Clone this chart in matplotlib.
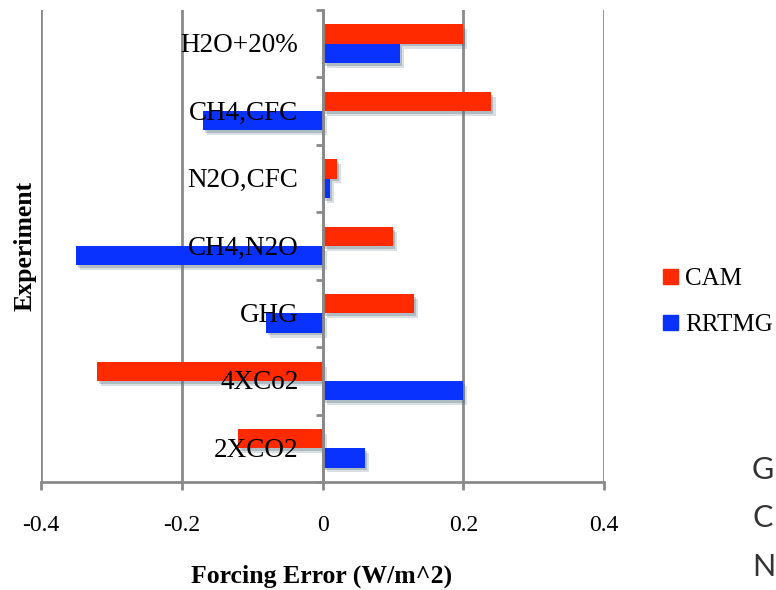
import matplotlib
matplotlib.use('Agg')
import matplotlib.pyplot as plt
import matplotlib.patches as mpatches
import matplotlib.patheffects as pe
import numpy as np

experiments = ['2XCO2', '4XCo2', 'GHG', 'CH4,N2O', 'N2O,CFC', 'CH4,CFC', 'H2O+20%']
cam = [-0.12, -0.32, 0.13, 0.10, 0.02, 0.24, 0.20]
rrtmg = [0.06, 0.20, -0.08, -0.35, 0.01, -0.17, 0.11]
xticks = [-0.4, -0.2, 0, 0.2, 0.4]
xtick_labels = ['-0.4', '-0.2', '0', '0.2', '0.4']

red = '#ff2a00'
blue = '#0a32ff'
grey = '#8a8a8a'
serif = 'Liberation Serif'

fig = plt.figure(figsize=(7.76, 5.9), dpi=100)
ax = fig.add_axes([41 / 776, 1 - 482 / 590, (604 - 41) / 776, 472 / 590])

y = np.arange(len(experiments))
h = 0.285
shadow = [pe.SimplePatchShadow(offset=(3, -3.5), shadow_rgbFace='#6a8090', alpha=0.25),
          pe.SimplePatchShadow(offset=(1.5, -2), shadow_rgbFace='#51687a', alpha=0.3),
          pe.Normal()]
b1 = ax.barh(y + h / 2, cam, height=h, color=red, zorder=3)
b2 = ax.barh(y - h / 2, rrtmg, height=h, color=blue, zorder=3)
for b in list(b1) + list(b2):
    b.set_path_effects(shadow)

ax.set_xlim(-0.4, 0.4)
ax.set_ylim(-0.5, len(experiments) - 0.5)

# vertical grid lines
ax.set_xticks(xticks)
ax.set_xticklabels(xtick_labels, fontfamily=serif, fontsize=17)
ax.grid(axis='x', color=grey, linewidth=2, zorder=0)
ax.tick_params(axis='x', length=6, width=2, color=grey, pad=18, direction='out')

# y axis sits at zero
for s in ['top', 'right']:
    ax.spines[s].set_visible(False)
ax.spines['left'].set_position(('data', 0))
ax.spines['left'].set_color(grey)
ax.spines['left'].set_linewidth(2)
ax.spines['left'].set_zorder(4)
ax.spines['bottom'].set_color(grey)
ax.spines['bottom'].set_linewidth(2)

ax.set_yticks(np.arange(len(experiments) + 1) - 0.5)
ax.set_yticklabels([])
ax.tick_params(axis='y', which='major', length=5, width=2, color=grey)

# category names sit on top of the bars, just left of the zero axis
for yi, name in zip(y, experiments):
    ax.annotate(name, xy=(0, yi), xytext=(-24, -2), textcoords='offset pixels',
                ha='right', va='center', fontfamily=serif, fontsize=19.5, zorder=6)

fig.text(322 / 776, 1 - 576 / 590, 'Forcing Error (W/m^2)', ha='center', va='center',
         fontfamily=serif, fontsize=18.5, fontweight='bold')
fig.text(25 / 776, 1 - 246 / 590, 'Experiment', ha='center', va='center', rotation=90,
         fontfamily=serif, fontsize=18.5, fontweight='bold')

patches = [mpatches.Patch(color=red, label='CAM'), mpatches.Patch(color=blue, label='RRTMG')]
fig.legend(handles=patches, loc='center left', bbox_to_anchor=(663 / 776, 1 - 302 / 590),
           frameon=False, prop={'family': serif, 'size': 18}, borderpad=0, borderaxespad=0,
           handlelength=0.6, handleheight=0.55, handletextpad=0.3, labelspacing=0.95)

for letter, yy in zip(['G', 'C', 'N'], [470, 518, 567]):
    fig.text(752 / 776, 1 - yy / 590, letter, ha='left', va='center', fontfamily='Lato',
             fontsize=22, color='#333333')

fig.savefig('out.png', dpi=100)
